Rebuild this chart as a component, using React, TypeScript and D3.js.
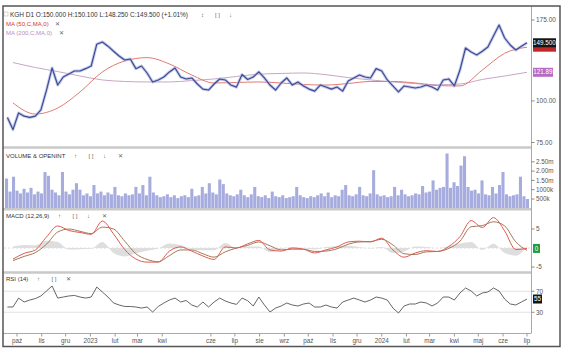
import * as d3 from "d3";

// weekly closes (last point = 1 Jul 2024)
const closes = [
  89.2, 82.0, 92.0, 90.0, 89.2, 90.0, 94.0, 107.8, 125.6, 111.6,
  118.0, 120.5, 123.0, 123.0, 125.0, 127.3, 148.0, 150.3, 146.0, 141.0,
  136.4, 132.7, 133.6, 125.0, 127.3, 121.3, 114.0, 115.6, 118.0, 122.2,
  125.6, 118.0, 116.4, 117.2, 112.4, 108.5, 107.8, 112.4, 116.4, 115.6,
  111.6, 110.0, 120.0, 116.0, 118.0, 122.2, 117.2, 111.6, 107.8, 113.2,
  117.2, 111.6, 114.0, 110.9, 108.5, 107.0, 111.6, 110.1, 108.5, 110.1,
  107.0, 114.8, 117.2, 119.6, 118.0, 117.2, 125.0, 123.0, 115.6, 110.9,
  106.4, 110.9, 110.1, 109.3, 110.1, 111.6, 110.1, 107.8, 115.6, 116.4,
  110.9, 123.8, 144.2, 140.3, 137.4, 141.0, 145.2, 156.7, 169.0, 154.5,
  147.2, 142.2, 146.0, 149.5,
];

// moving averages, one value every 4 weeks
const ma50 = [
  98.6, 91.3, 95.2, 106.4, 122.2, 131.8, 134.9, 129.1, 119.6, 113.2,
  113.6, 114.0, 113.2, 112.0, 111.6, 112.8, 114.4, 114.4, 113.2, 111.2,
  110.9, 123.8, 139.0, 145.0,
];
const ma200 = [
  130.4, 126.0, 122.5, 118.8, 115.6, 114.4, 114.0, 114.0, 115.1, 116.4,
  118.4, 120.3, 120.9, 121.3, 119.9, 117.5, 115.6, 114.0, 112.7, 111.8,
  112.4, 116.0, 118.8, 121.89,
];

// volume in thousands
const volumes = [
  1600, 900, 1700, 950, 800, 1050, 850, 1100, 750, 900,
  800, 1950, 1750, 1000, 850, 700, 1950, 900, 750, 1000,
  1350, 1000, 700, 800, 650, 1250, 800, 900, 700, 850,
  750, 1150, 700, 650, 800, 700, 750, 1150, 800, 1250,
  700, 1700, 850, 700, 600, 650, 750, 600, 700, 550,
  650, 700, 600, 1050, 650, 700, 1150, 800, 1350, 850,
  750, 1550, 1300, 800, 700, 650, 750, 1000, 700, 600,
  750, 1150, 650, 600, 700, 550, 900, 650, 600, 700,
  550, 600, 650, 1150, 700, 600, 550, 650, 600, 700,
  800, 650, 850, 600, 700, 650, 1000, 1250, 700, 650,
  750, 1150, 700, 650, 800, 2050, 750, 650, 700, 600,
  650, 1150, 700, 1000, 750, 650, 700, 800, 750, 1200,
  850, 900, 1500, 1000, 1100, 1150, 2950, 1100, 1400, 1200,
  2300, 2800, 1150, 950, 1000, 800, 1500, 750, 700, 1150,
  800, 1250, 1950, 750, 650, 700, 750, 1700, 650, 500,
];

// MACD (12,26,9), one value every 2 weeks
const macdLine = [
  -2.9, -1.4, -0.5, 2.9, 5.8, 4.6, 4.1, 3.6, 7.1, 3.7,
  -0.4, -2.9, -3.7, -3.7, -0.8, 0.3, -0.8, -2.1, -3.0, 0.3,
  0, 1.1, 2.0, -0.5, -0.8, 0, -0.3, -1.3, -0.5, 0.3,
  1.6, 1.8, 1.6, 2.6, -0.5, -2.4, -1.3, -0.7, -0.9, 0.4,
  3.0, 7.2, 5.4, 8.0, 4.5, -0.4, -0.1,
];
const signalLine = [
  -3.3, -2.2, -1.2, 1.0, 4.2, 5.0, 4.4, 3.8, 5.5, 5.0,
  1.8, -1.5, -3.0, -3.6, -2.0, -0.5, -0.5, -1.5, -2.4, -1.0,
  0, 0.7, 1.6, 0.6, -0.5, -0.3, -0.3, -0.9, -0.8, -0.2,
  1.0, 1.6, 1.7, 2.3, 0.8, -1.5, -1.7, -1.0, -0.9, -0.1,
  1.8, 5.6, 5.9, 6.9, 5.8, 1.6, -0.6,
];

// RSI (14), weekly
const rsi = [
  40, 40, 57, 49.5, 53.3, 56, 61, 70.5, 80, 57,
  59, 61, 62, 59, 57, 59, 78, 68.6, 59, 47.6,
  43.8, 41, 41, 40, 38, 40, 30.5, 41, 47.6, 53.3,
  57, 49.5, 52.4, 43.8, 40, 49.5, 40, 49.5, 57, 51.4,
  47.6, 45, 57, 52, 41.9, 59, 43.8, 30.5, 38, 41.9,
  47.6, 43.8, 41.9, 45.7, 47.6, 40, 40, 43.8, 40, 38,
  49.5, 53.3, 57, 53.3, 49.5, 53.3, 59, 57, 53.3, 38,
  28.6, 41.9, 45.7, 45.7, 49.5, 47.6, 41.9, 47.6, 59, 59,
  53.3, 66.7, 76.2, 70.5, 61, 66.7, 68.6, 76.2, 70.5, 55.2,
  45.7, 43.8, 49.5, 55.2,
];

const priceTicks = [175, 100, 75];
const volumeTicks = [2500, 2000, 1500, 1000, 500];
const volumeTickLabels = ["2.50m", "2.00m", "1.50m", "1000k", "500k"];
const macdTicks = [5, -5];
const rsiTicks = [70, 30];
const monthNames = ["sty", "lut", "mar", "kwi", "maj", "cze", "lip", "sie", "wrz", "paź", "lis", "gru"];

const FONT = "Liberation Sans, Arial, sans-serif";
const AXIS_X = 531.5;

export default function App() {
  const lastDay = new Date(2024, 6, 1);
  const weekDates = closes.map((_, i) => d3.timeDay.offset(lastDay, 7 * (i - closes.length + 1)));
  const maDates = ma50.map((_, k) => weekDates[1 + 4 * k]);
  const macdDates = macdLine.map((_, k) => weekDates[1 + 2 * k]);

  const x = d3.scaleTime().domain([new Date(2022, 8, 16), lastDay]).range([5, 527]);
  const yP = d3.scaleLog().domain([75, 175]).range([142.5, 20]);
  const yV = d3.scaleLinear().domain([0, 3190]).range([208.3, 149]);
  const yM = d3.scaleLinear().domain([-6.3, 10]).range([272, 210]);
  const yR = d3.scaleLinear().domain([0, 100]).range([328, 275.5]);
  const xV = d3.scaleBand<number>().domain(d3.range(volumes.length)).range([5, 529]).paddingInner(0.12);

  const monthTicks = d3
    .timeMonth.range(new Date(2022, 9, 1), new Date(2024, 6, 2))
    .filter((d) => !(d.getFullYear() === 2023 && d.getMonth() === 4));
  const fmtMonth = (d: Date) => (d.getMonth() === 0 ? String(d.getFullYear()) : monthNames[d.getMonth()]);

  const priceLine = d3.line<number>().x((_, i) => x(weekDates[i])).y((d) => yP(d));
  const maLine = d3.line<number>().x((_, i) => x(maDates[i])).y((d) => yP(d)).curve(d3.curveMonotoneX);
  const macdPath = d3.line<number>().x((_, i) => x(macdDates[i])).y((d) => yM(d)).curve(d3.curveMonotoneX);
  const hist = macdLine.map((d, i) => d - signalLine[i]);
  const histArea = d3
    .area<number>()
    .x((_, i) => x(macdDates[i]))
    .y0(yM(0))
    .y1((d) => yM(d))
    .curve(d3.curveMonotoneX);
  const rsiLine = d3.line<number>().x((_, i) => x(weekDates[i])).y((d) => yR(d));

  const lastClose = closes[closes.length - 1];
  const lastMa50 = ma50[ma50.length - 1];
  const lastMa200 = ma200[ma200.length - 1];

  const headerIcons = (x0: number, y: number, items: string[], gap: number) =>
    items.map((t, i) => (
      <text key={i} x={x0 + i * gap} y={y} fontSize={6} fill="#666">
        {t}
      </text>
    ));

  return (
    <svg
      width={564}
      height={352}
      style={{ position: "absolute", left: 0, top: 0, background: "#fff" }}
      fontFamily={FONT}
    >
      <defs>
        <clipPath id="plot">
          <rect x={4} y={6} width={AXIS_X - 4} height={330} />
        </clipPath>
      </defs>
      <rect x={0} y={0} width={564} height={352} fill="#fff" />

      {/* RSI guide lines */}
      {rsiTicks.map((t) => (
        <line key={t} x1={4} x2={AXIS_X} y1={yR(t)} y2={yR(t)} stroke="#e2e2e2" strokeWidth={1} />
      ))}
      <line x1={4} x2={AXIS_X} y1={yM(0)} y2={yM(0)} stroke="#dcdcdc" strokeDasharray="2,2" />

      <g clipPath="url(#plot)">
        {/* moving averages */}
        <path d={maLine(ma200) ?? ""} fill="none" stroke="#c9a6c4" strokeWidth={1} />
        <path d={maLine(ma50) ?? ""} fill="none" stroke="#e07a72" strokeWidth={1} />
        {/* price */}
        <path d={priceLine(closes) ?? ""} fill="none" stroke="#a9b2e2" strokeWidth={3} strokeOpacity={0.7} strokeLinejoin="round" />
        <path d={priceLine(closes) ?? ""} fill="none" stroke="#3c4a92" strokeWidth={1.15} strokeLinejoin="round" />

        {/* volume */}
        {volumes.map((v, i) => (
          <rect
            key={i}
            x={xV(i) ?? 0}
            y={yV(v)}
            width={xV.bandwidth()}
            height={yV(0) - yV(v)}
            fill="#a7acdf"
          />
        ))}

        {/* MACD */}
        <path d={histArea(hist) ?? ""} fill="#dedede" stroke="none" />
        <path d={macdPath(signalLine) ?? ""} fill="none" stroke="#a0785a" strokeWidth={1} />
        <path d={macdPath(macdLine) ?? ""} fill="none" stroke="#de5a50" strokeWidth={1} />

        {/* RSI */}
        <path d={rsiLine(rsi) ?? ""} fill="none" stroke="#555" strokeWidth={0.9} strokeLinejoin="round" />
      </g>

      {/* panel separators */}
      {[147.5, 209.3, 272.5].map((y) => (
        <line key={y} x1={3} x2={AXIS_X} y1={y} y2={y} stroke="#c9c9c9" strokeWidth={2.5} />
      ))}

      {/* right axis */}
      <line x1={AXIS_X} x2={AXIS_X} y1={6} y2={333} stroke="#aaa" strokeWidth={1} />
      {priceTicks.map((t) => (
        <g key={t} transform={`translate(${AXIS_X},${yP(t)})`}>
          <line x2={3} stroke="#888" />
          <text x={4.5} dy="0.35em" fontSize={6.5} fill="#555">
            {t.toFixed(2)}
          </text>
        </g>
      ))}
      {volumeTicks.map((t, i) => (
        <g key={t} transform={`translate(${AXIS_X},${yV(t)})`}>
          <line x2={3} stroke="#888" />
          <text x={4.5} dy="0.35em" fontSize={6.3} fill="#555">
            {volumeTickLabels[i]}
          </text>
        </g>
      ))}
      {macdTicks.map((t) => (
        <g key={t} transform={`translate(${AXIS_X},${yM(t)})`}>
          <line x2={3} stroke="#888" />
          <text x={4.5} dy="0.35em" fontSize={6.5} fill="#555">
            {t}
          </text>
        </g>
      ))}
      {rsiTicks.map((t) => (
        <g key={t} transform={`translate(${AXIS_X},${yR(t)})`}>
          <line x2={3} stroke="#888" />
          <text x={4.5} dy="0.35em" fontSize={6.5} fill="#555">
            {t}
          </text>
        </g>
      ))}

      {/* value boxes */}
      <rect x={533} y={yP(lastMa50) - 4.5} width={23} height={9} fill="#c0282a" />
      <rect x={533} y={yP(lastClose) - 4.5} width={23} height={9} fill="#151515" />
      <text x={544.5} y={yP(lastClose)} dy="0.35em" textAnchor="middle" fontSize={6.3} fill="#fff">
        {lastClose.toFixed(3)}
      </text>
      <rect x={533} y={yP(lastMa200) - 4.5} width={20} height={9} fill="#b46cc4" />
      <text x={543} y={yP(lastMa200)} dy="0.35em" textAnchor="middle" fontSize={6.3} fill="#fff">
        {lastMa200.toFixed(2)}
      </text>
      <rect x={533} y={yM(signalLine[signalLine.length - 1]) - 6} width={6} height={5} fill="#d0302c" />
      <rect x={533} y={yM(macdLine[macdLine.length - 1]) - 4.5} width={7} height={9} fill="#1e9e3c" />
      <text x={536.5} y={yM(macdLine[macdLine.length - 1])} dy="0.35em" textAnchor="middle" fontSize={6.3} fill="#fff">
        0
      </text>
      <rect x={533} y={yR(rsi[rsi.length - 1]) - 4.5} width={9} height={9} fill="#151515" />
      <text x={537.5} y={yR(rsi[rsi.length - 1])} dy="0.35em" textAnchor="middle" fontSize={6.3} fill="#fff">
        {Math.round(rsi[rsi.length - 1])}
      </text>

      {/* x axis */}
      <line x1={3} x2={AXIS_X} y1={333.5} y2={333.5} stroke="#aaa" />
      {monthTicks.map((d) => (
        <g key={d.getTime()} transform={`translate(${x(d)},333.5)`}>
          <line y2={3} stroke="#999" />
          <text y={9.5} textAnchor="middle" fontSize={6.3} fill="#555">
            {fmtMonth(d)}
          </text>
        </g>
      ))}

      {/* headers */}
      <rect x={4} y={12} width={4} height={4} fill="none" stroke="#bbb" strokeWidth={0.6} />
      <text x={10} y={16.5} fontSize={6.3} fill="#333" textLength={178} lengthAdjust="spacingAndGlyphs">
        KGH D1 O:150.000 H:150.100 L:148.250 C:149.500 (+1.01%)
      </text>
      {headerIcons(201, 16.5, ["↕", "[ ]", "↓"], 14)}
      <text x={6} y={26} fontSize={6} fill="#d03838">
        MA (50,C,MA,0)
      </text>
      <text x={55} y={26} fontSize={6} fill="#666">✕</text>
      <text x={6} y={35} fontSize={6} fill="#b48ec0">
        MA (200,C,MA,0)
      </text>
      <text x={59} y={35} fontSize={6} fill="#666">✕</text>

      <text x={6} y={158} fontSize={6} fill="#333">
        VOLUME &amp; OPENINT
      </text>
      {headerIcons(74, 158, ["↑", "[ ]", "↓", "✕"], 14.5)}
      <text x={6} y={218} fontSize={6} fill="#333">
        MACD (12,26,9)
      </text>
      {headerIcons(58, 218, ["↑", "[ ]", "↓", "✕"], 14.5)}
      <text x={6} y={281} fontSize={6} fill="#333">
        RSI (14)
      </text>
      {headerIcons(37, 281, ["↑", "[ ]", "✕"], 14.5)}

      {/* outer frame */}
      <rect x={3} y={6} width={557} height={340.5} fill="none" stroke="#555" strokeWidth={1.5} />
    </svg>
  );
}
